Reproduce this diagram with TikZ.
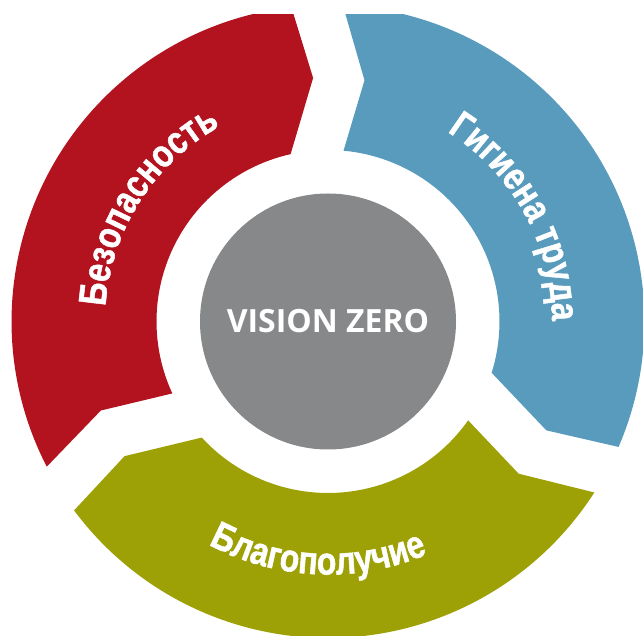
\documentclass[tikz,border=0pt]{standalone}
\usepackage{fontspec}
\setmainfont{Liberation Sans}
\newfontfamily\arcfont{Liberation Sans}[FakeStretch=0.82,FakeBold=1.2]
\newfontfamily\vzfont{Open Sans}
\usetikzlibrary{calc,decorations.text}
\definecolor{segred}{HTML}{B2131F}
\definecolor{segblue}{HTML}{599BBD}
\definecolor{seggreen}{HTML}{9DA106}
\definecolor{coregray}{HTML}{87888A}
\newcommand{\ringseg}[2]{%
  \fill[#2] ($(C)+({207.3-#1}:316.5)$)
    arc[start angle={207.3-#1}, end angle={96.65-#1}, radius=316.5]
    -- ($(C)+({93.5-#1}:244)$)
    -- ($(C)+({102.6-#1}:171.5)$)
    arc[start angle={102.6-#1}, end angle={204.8-#1}, radius=171.5]
    -- ($(C)+({201.4-#1}:244)$) -- cycle;}
\newcommand{\arcfmt}{\arcfont\bfseries\fontsize{39}{39}\selectfont}
\tikzset{
  arclabel/.style={decorate, decoration={text along path, text align=center,
      text color=white, text={#1}}},
}
\begin{document}
\begin{tikzpicture}[x=1pt,y=1pt]
\useasboundingbox (0,0) rectangle (643,635);
\coordinate (C) at (328,313.5);
\begin{scope}
  \clip (0,0) rectangle (643,620);
  \ringseg{0}{segred}
  \ringseg{120}{segblue}
  \ringseg{240}{seggreen}
\end{scope}
\node[circle, fill=coregray, minimum size=256pt, inner sep=0pt,
      text=white, font=\vzfont\bfseries\fontsize{32}{32}\selectfont] (core) at (C) {VISION ZERO};
\path[arclabel={|\arcfmt|Безопасность}]
  ($(C)+(205:223)$) arc[start angle=205, end angle=90, radius=223];
\path[arclabel={|\arcfmt|Гигиена труда}]
  ($(C)+(86:224)$) arc[start angle=86, end angle=-28, radius=224];
\path[arclabel={|\arcfmt|Благополучие}]
  ($(C)+(-150:253)$) arc[start angle=-150, end angle=-35, radius=253];
\end{tikzpicture}
\end{document}
